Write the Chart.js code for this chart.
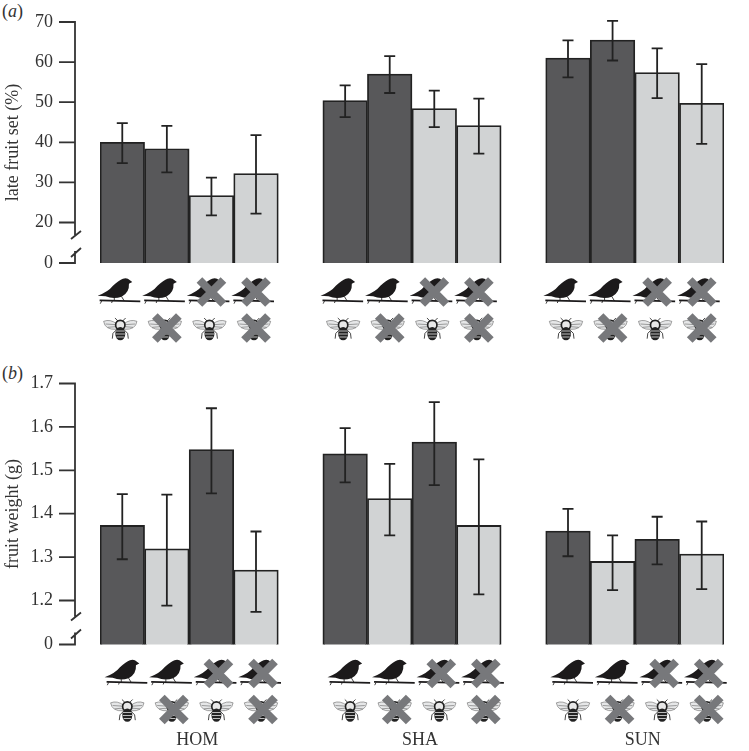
<!DOCTYPE html>
<html>
  <head>
    <meta charset="utf-8" />
    <title>Late fruit set and fruit weight</title>
    <style>
        html, body {
            width: 100%;
            height: 100%;
            margin: 0;
            padding: 0;
            overflow: hidden;
            background: #fff;
        }
        canvas { position: absolute; left: 0; }
        .tag {
            position: absolute;
            left: 2px;
            font: 18px "Liberation Serif", serif;
            color: #333;
        }
    </style>
  </head>
  <body>
    <div class="tag" style="top: 1px">(<i>a</i>)</div>
    <div class="tag" style="top: 363px">(<i>b</i>)</div>
    <canvas id="chartA" width="749" height="360" style="top: 0"></canvas>
    <canvas id="chartB" width="749" height="391" style="top: 360px"></canvas>

    <script src="https://cdn.jsdelivr.net/npm/chart.js@4"></script>
    <script>
        const DARK = "#58585a";
        const LIGHT = "#d1d3d4";

        // 14 slots: 4 bars, a gap, 4 bars, a gap, 4 bars
        const slots = ["HOM 1", "HOM 2", "HOM 3", "HOM 4", "", "SHA 1", "SHA 2", "SHA 3", "SHA 4", " ", "SUN 1", "SUN 2", "SUN 3", "SUN 4"];
        const sites = ["HOM", "SHA", "SUN"];
        const birds = [1, 1, 0, 0, null, 1, 1, 0, 0, null, 1, 1, 0, 0];
        const bees = [1, 0, 1, 0, null, 1, 0, 1, 0, null, 1, 0, 1, 0];

        const fruitSet = [40, 38.4, 26.7, 32.2, null, 50.4, 57, 48.4, 44.2, null, 61, 65.5, 57.4, 49.7];
        const fruitSetLow = [34.8, 32.5, 21.8, 22.2, null, 46.3, 52.3, 43.8, 37.2, null, 56.2, 60.4, 51, 39.6];
        const fruitSetHigh = [44.8, 44.1, 31.2, 41.8, null, 54.2, 61.5, 52.9, 50.9, null, 65.4, 70.3, 63.4, 59.5];
        const fruitSetTicks = [9.9, 20, 30, 40, 50, 60, 70];
        const fruitSetTickLabels = ["0", "20", "30", "40", "50", "60", "70"];
        const fruitSetColors = [DARK, DARK, LIGHT, LIGHT, null, DARK, DARK, LIGHT, LIGHT, null, DARK, DARK, LIGHT, LIGHT];

        const weight = [1.373, 1.319, 1.548, 1.27, null, 1.538, 1.435, 1.565, 1.373, null, 1.36, 1.29, 1.341, 1.307];
        const weightLow = [1.295, 1.188, 1.447, 1.174, null, 1.472, 1.35, 1.466, 1.214, null, 1.302, 1.224, 1.283, 1.226];
        const weightHigh = [1.445, 1.444, 1.643, 1.359, null, 1.597, 1.515, 1.657, 1.525, null, 1.411, 1.35, 1.393, 1.382];
        const weightTicks = [1.0986, 1.2, 1.3, 1.4, 1.5, 1.6, 1.7];
        const weightTickLabels = ["0", "1.2", "1.3", "1.4", "1.5", "1.6", "1.7"];
        const weightColors = [DARK, LIGHT, DARK, LIGHT, null, DARK, LIGHT, DARK, LIGHT, null, DARK, LIGHT, DARK, LIGHT];

        const INK = "#222";
        const SERIF = "'Liberation Serif', serif";

        const drawBird = (ctx, x, y) => {
            ctx.save();
            ctx.translate(x, y);
            ctx.scale(1 / 3, 1 / 3);
            ctx.fillStyle = "#1c1a1b";
            ctx.beginPath();
            ctx.moveTo(-74, -16);
            ctx.quadraticCurveTo(-42, -28, -28, -46);
            ctx.quadraticCurveTo(-10, -62, 2, -67);
            ctx.quadraticCurveTo(16, -70, 22, -63);
            ctx.lineTo(30, -57);
            ctx.lineTo(20, -52);
            ctx.quadraticCurveTo(22, -26, -2, -13);
            ctx.quadraticCurveTo(-26, -4, -50, -14);
            ctx.closePath();
            ctx.fill();
            ctx.strokeStyle = "#1c1a1b";
            ctx.lineWidth = 2.5;
            ctx.beginPath();
            ctx.moveTo(-24, -10); ctx.lineTo(-24, 0);
            ctx.moveTo(-2, -13); ctx.lineTo(6, 0);
            ctx.moveTo(-62, 0); ctx.lineTo(-66, 8);
            ctx.moveTo(-30, 0); ctx.lineTo(-32, 6);
            ctx.stroke();
            ctx.lineWidth = 5;
            ctx.beginPath();
            ctx.moveTo(-68, -2);
            ctx.lineTo(54, 1);
            ctx.stroke();
            ctx.restore();
        };

        const drawBee = (ctx, x, y) => {
            ctx.save();
            ctx.translate(x - 2, y);
            ctx.scale(1 / 3, 1 / 3);
            [-1, 1].forEach((side) => {
                ctx.lineWidth = 1.8;
                ctx.strokeStyle = "#666";
                ctx.fillStyle = "#e6e7e8";
                ctx.beginPath();
                ctx.moveTo(side * 10, -12);
                ctx.quadraticCurveTo(side * 30, -28, side * 50, -20);
                ctx.quadraticCurveTo(side * 46, 6, side * 12, 4);
                ctx.closePath();
                ctx.fill();
                ctx.stroke();
                ctx.beginPath();
                ctx.moveTo(side * 14, -10); ctx.lineTo(side * 44, -12);
                ctx.moveTo(side * 14, -4); ctx.lineTo(side * 38, -2);
                ctx.stroke();
                // legs
                ctx.lineWidth = 2.5;
                ctx.strokeStyle = "#222";
                ctx.beginPath();
                ctx.moveTo(side * 10, 4); ctx.lineTo(side * 22, 16); ctx.lineTo(side * 24, 32);
                ctx.moveTo(side * 6, -20); ctx.lineTo(side * 16, -30);
                ctx.stroke();
            });
            // thorax
            ctx.fillStyle = "#e8e8e8";
            ctx.strokeStyle = "#222";
            ctx.lineWidth = 5;
            ctx.beginPath();
            ctx.arc(0, -9, 14, 0, Math.PI * 2);
            ctx.fill();
            ctx.stroke();
            // abdomen
            ctx.fillStyle = "#222";
            ctx.beginPath();
            ctx.ellipse(0, 17, 15, 20, 0, 0, Math.PI * 2);
            ctx.fill();
            ctx.strokeStyle = "#ddd";
            ctx.lineWidth = 2.5;
            ctx.beginPath();
            ctx.moveTo(-13, 9); ctx.lineTo(13, 9);
            ctx.moveTo(-14, 18); ctx.lineTo(14, 18);
            ctx.moveTo(-11, 27); ctx.lineTo(11, 27);
            ctx.stroke();
            ctx.restore();
        };

        const drawCross = (ctx, x, y) => {
            ctx.save();
            ctx.strokeStyle = "#77787b";
            ctx.lineWidth = 8;
            ctx.beginPath();
            ctx.moveTo(x - 12, y - 12); ctx.lineTo(x + 12, y + 12);
            ctx.moveTo(x + 12, y - 12); ctx.lineTo(x - 12, y + 12);
            ctx.stroke();
            ctx.restore();
        };

        // error bars, broken axis, bird and bee icons, site names
        const extras = {
            id: "extras",
            afterDatasetsDraw(chart, args, opts) {
                const { ctx } = chart;
                const xs = chart.scales.x;
                const ys = chart.scales.y;
                const bottom = ys.getPixelForValue(ys.min);
                ctx.save();
                ctx.strokeStyle = INK;
                ctx.lineWidth = 1.8;
                opts.low.forEach((low, i) => {
                    if (low === null) return;
                    const x = xs.getPixelForValue(i);
                    const y1 = ys.getPixelForValue(low);
                    const y2 = ys.getPixelForValue(opts.high[i]);
                    ctx.beginPath();
                    ctx.moveTo(x, y1); ctx.lineTo(x, y2);
                    ctx.moveTo(x - 5.5, y1); ctx.lineTo(x + 5.5, y1);
                    ctx.moveTo(x - 5.5, y2); ctx.lineTo(x + 5.5, y2);
                    ctx.stroke();
                });

                const axisX = 75;
                ctx.strokeStyle = "#333";
                ctx.beginPath();
                ctx.moveTo(axisX, ys.getPixelForValue(ys.max) - 1);
                ctx.lineTo(axisX, bottom - 28);
                ctx.moveTo(axisX, bottom - 12);
                ctx.lineTo(axisX, bottom + 1);
                ys.ticks.forEach((t) => {
                    const y = ys.getPixelForValue(t.value);
                    ctx.moveTo(59, y);
                    ctx.lineTo(axisX, y);
                });
                ctx.moveTo(71, bottom - 24); ctx.lineTo(81, bottom - 32);
                ctx.moveTo(71, bottom - 6); ctx.lineTo(81, bottom - 15);
                ctx.stroke();
                ctx.restore();

                birds.forEach((b, i) => {
                    if (b === null) return;
                    const x = xs.getPixelForValue(i) + opts.iconShift;
                    drawBird(ctx, x, bottom + 38);
                    drawBee(ctx, x, bottom + 65);
                    if (!b) drawCross(ctx, x, bottom + 29);
                    if (!bees[i]) drawCross(ctx, x, bottom + 65);
                });

                if (opts.showSites) {
                    ctx.save();
                    ctx.fillStyle = "#333";
                    ctx.font = "18px " + SERIF;
                    ctx.textAlign = "center";
                    ctx.textBaseline = "middle";
                    sites.forEach((s, k) => {
                        const first = k * 5;
                        const x = (xs.getPixelForValue(first + 1) + xs.getPixelForValue(first + 2)) / 2 + 8;
                        ctx.fillText(s, x, bottom + 96);
                    });
                    ctx.restore();
                }
            }
        };

        const makeChart = (id, cfg) => new Chart(id, {
            type: "bar",
            data: {
                labels: slots,
                datasets: [{
                    data: cfg.values,
                    backgroundColor: cfg.colors,
                    borderColor: INK,
                    borderWidth: 1.8,
                    barPercentage: 1,
                    categoryPercentage: 1
                }]
            },
            options: {
                responsive: false,
                animation: false,
                layout: { padding: { top: cfg.top, bottom: cfg.bottom, left: 0, right: 25 } },
                plugins: {
                    legend: { display: false },
                    tooltip: { enabled: false },
                    extras: { low: cfg.low, high: cfg.high, iconShift: cfg.iconShift, showSites: cfg.showSites }
                },
                scales: {
                    x: { display: false },
                    y: {
                        min: cfg.ticks[0],
                        max: cfg.ticks[cfg.ticks.length - 1],
                        afterBuildTicks: (scale) => { scale.ticks = cfg.ticks.map((v) => ({ value: v })); },
                        afterFit: (scale) => { scale.width = 100; },
                        grid: { drawOnChartArea: false, tickLength: 47, tickColor: "rgba(0,0,0,0)" },
                        border: { display: false },
                        ticks: {
                            autoSkip: false,
                            padding: 0,
                            color: "#333",
                            font: { family: SERIF, size: 18 },
                            callback: (v, i) => cfg.tickLabels[i]
                        },
                        title: {
                            display: true,
                            text: cfg.title,
                            color: "#333",
                            font: { family: SERIF, size: 18 },
                            padding: { top: 2, bottom: 0 }
                        }
                    }
                }
            },
            plugins: [extras]
        });

        makeChart("chartA", {
            values: fruitSet, colors: fruitSetColors, low: fruitSetLow, high: fruitSetHigh,
            ticks: fruitSetTicks, tickLabels: fruitSetTickLabels, title: "late fruit set (%)",
            top: 22, bottom: 97, iconShift: 0, showSites: false
        });
        makeChart("chartB", {
            values: weight, colors: weightColors, low: weightLow, high: weightHigh,
            ticks: weightTicks, tickLabels: weightTickLabels, title: "fruit weight (g)",
            top: 23.5, bottom: 106.5, iconShift: 7, showSites: true
        });
    </script>
  </body>
</html>
